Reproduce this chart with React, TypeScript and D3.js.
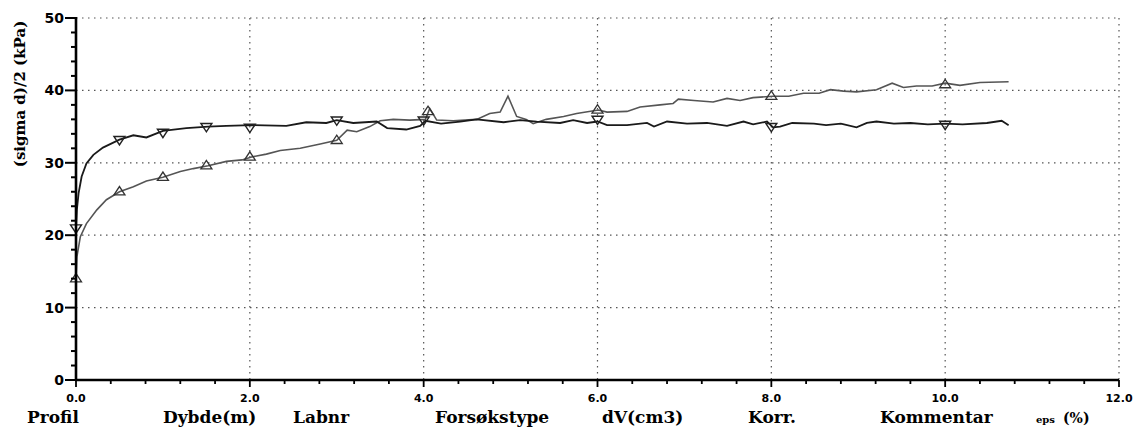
import React from "react";
import * as d3 from "d3";

// ---- data ----
const xTickValues = [0, 2, 4, 6, 8, 10, 12];
const yTickValues = [0, 10, 20, 30, 40, 50];

const seriesAX = [0, 0.01, 0.03, 0.065, 0.12, 0.2, 0.31, 0.5, 0.66, 0.81, 1.0, 1.27, 1.52, 1.73, 2.02, 2.42, 2.65, 2.88, 3.0, 3.19, 3.46, 3.58, 3.8, 3.96, 4.02, 4.2, 4.42, 4.61, 4.92, 5.11, 5.3, 5.57, 5.72, 5.88, 6.0, 6.11, 6.34, 6.57, 6.65, 6.8, 7.03, 7.26, 7.49, 7.68, 7.79, 7.95, 8.02, 8.1, 8.24, 8.49, 8.63, 8.8, 8.98, 9.1, 9.21, 9.41, 9.6, 9.8, 10.0, 10.2, 10.48, 10.65, 10.73];
const seriesAY = [21.0, 23.5, 25.8, 28.1, 29.9, 31.1, 32.1, 33.2, 33.8, 33.5, 34.4, 34.8, 35.0, 35.1, 35.2, 35.1, 35.6, 35.5, 35.9, 35.5, 35.7, 34.8, 34.6, 35.1, 35.8, 35.4, 35.7, 36.0, 35.6, 35.9, 35.7, 35.5, 35.9, 35.5, 35.7, 35.2, 35.2, 35.5, 35.0, 35.7, 35.4, 35.5, 35.1, 35.7, 35.3, 35.7, 34.9, 35.0, 35.5, 35.4, 35.2, 35.4, 34.9, 35.5, 35.7, 35.4, 35.5, 35.3, 35.4, 35.3, 35.5, 35.8, 35.2];

const seriesBX = [0, 0.01, 0.05, 0.12, 0.24, 0.35, 0.5, 0.66, 0.81, 1.0, 1.2, 1.35, 1.52, 1.73, 1.91, 2.02, 2.19, 2.35, 2.58, 2.81, 3.0, 3.12, 3.23, 3.38, 3.5, 3.65, 3.84, 4.02, 4.07, 4.15, 4.34, 4.61, 4.76, 4.88, 4.97, 5.07, 5.18, 5.26, 5.41, 5.61, 5.76, 6.01, 6.11, 6.34, 6.49, 6.72, 6.87, 6.93, 7.11, 7.33, 7.49, 7.64, 7.79, 8.02, 8.2, 8.37, 8.55, 8.68, 8.83, 8.98, 9.21, 9.39, 9.52, 9.67, 9.85, 10.0, 10.17, 10.4, 10.73];
const seriesBY = [14.0, 17.0, 19.8, 21.6, 23.5, 24.9, 26.0, 26.7, 27.5, 28.0, 28.8, 29.2, 29.6, 30.2, 30.4, 30.8, 31.2, 31.7, 32.0, 32.6, 33.1, 34.5, 34.3, 35.0, 35.8, 36.0, 35.9, 36.0, 37.5, 35.9, 35.8, 36.0, 36.8, 37.0, 39.2, 36.4, 36.0, 35.4, 36.0, 36.4, 36.8, 37.3, 37.0, 37.1, 37.7, 38.0, 38.2, 38.8, 38.6, 38.4, 38.9, 38.6, 39.0, 39.2, 39.2, 39.6, 39.6, 40.1, 39.9, 39.8, 40.1, 41.0, 40.4, 40.6, 40.6, 41.0, 40.7, 41.1, 41.2];

const markersAX = [0, 0.5, 1.0, 1.5, 2.0, 3.0, 4.0, 6.0, 8.0, 10.0];
const markersAY = [21.0, 33.2, 34.2, 35.0, 34.9, 35.9, 35.9, 36.0, 35.0, 35.3];
const markersBX = [0, 0.5, 1.0, 1.5, 2.0, 3.0, 4.05, 6.0, 8.0, 10.0];
const markersBY = [14.0, 26.0, 28.0, 29.6, 30.8, 33.1, 37.1, 37.3, 39.2, 40.8];

const footerLabels = ["Profil", "Dybde(m)", "Labnr", "Forsøkstype", "dV(cm3)", "Korr.", "Kommentar"];
const footerX = [27, 163, 293, 435, 602, 748, 880];

const W = 1147;
const H = 434;

export default function App() {
  const x = d3.scaleLinear().domain([0, 12]).range([76, 1119]);
  const y = d3.scaleLinear().domain([0, 50]).range([380, 18]);

  const line = d3
    .line<[number, number]>()
    .x((d) => x(d[0]))
    .y((d) => y(d[1]))
    .curve(d3.curveLinear);

  const dataA: [number, number][] = seriesAX.map((v, i) => [v, seriesAY[i]]);
  const dataB: [number, number][] = seriesBX.map((v, i) => [v, seriesBY[i]]);

  const xMinor = d3.range(0, 12.001, 0.4);
  const yMinor = d3.range(0, 50.001, 2);

  const tri = (cx: number, cy: number, down: boolean, s = 5.5) => {
    const h = s * 0.95;
    return down
      ? `M${cx - s},${cy - h * 0.6}L${cx + s},${cy - h * 0.6}L${cx},${cy + h}Z`
      : `M${cx - s},${cy + h * 0.6}L${cx + s},${cy + h * 0.6}L${cx},${cy - h}Z`;
  };

  const serif = "'DejaVu Serif', serif";
  const sans = "'DejaVu Sans', sans-serif";

  return (
    <svg
      width={W}
      height={H}
      style={{ position: "absolute", left: 0, top: 0, background: "#fff", display: "block" }}
    >
      <rect x={0} y={0} width={W} height={H} fill="#fff" />
      {/* grid */}
      <g stroke="#555" strokeWidth={1.2} strokeDasharray="1.5 4.5">
        {yTickValues
          .filter((v) => v > 0)
          .map((v) => (
            <line key={"gy" + v} x1={x(0)} x2={x(12)} y1={y(v)} y2={y(v)} />
          ))}
        {xTickValues
          .filter((v) => v > 0)
          .map((v) => (
            <line key={"gx" + v} x1={x(v)} x2={x(v)} y1={y(50)} y2={y(0)} />
          ))}
      </g>

      {/* series */}
      <path d={line(dataB) || ""} fill="none" stroke="#555" strokeWidth={1.6} />
      <path d={line(dataA) || ""} fill="none" stroke="#1a1a1a" strokeWidth={1.8} />

      {markersAX.map((v, i) => (
        <path key={"ma" + i} d={tri(x(v), y(markersAY[i]), true)} fill="none" stroke="#222" strokeWidth={1.4} />
      ))}
      {markersBX.map((v, i) => (
        <path key={"mb" + i} d={tri(x(v), y(markersBY[i]), false)} fill="none" stroke="#333" strokeWidth={1.3} />
      ))}

      {/* axes */}
      <line x1={x(0)} x2={x(0)} y1={y(50) - 1} y2={y(0) + 1} stroke="#000" strokeWidth={2.6} />
      <line x1={x(0) - 1} x2={x(12)} y1={y(0)} y2={y(0)} stroke="#000" strokeWidth={2.6} />

      {yMinor.map((v) => (
        <line
          key={"ty" + v}
          x1={x(0)}
          x2={x(0) - (v % 10 === 0 ? 11 : 5)}
          y1={y(v)}
          y2={y(v)}
          stroke="#000"
          strokeWidth={2}
        />
      ))}
      {xMinor.map((v, i) => (
        <line
          key={"tx" + i}
          x1={x(v)}
          x2={x(v)}
          y1={y(0)}
          y2={y(0) + (i % 5 === 0 ? 7 : 4)}
          stroke="#000"
          strokeWidth={1.8}
        />
      ))}

      {/* tick labels */}
      <g fontFamily={sans} fontWeight="bold" fontSize={14} fill="#000" textAnchor="end">
        {yTickValues.map((v) => (
          <text key={"ly" + v} x={64} y={y(v) + 5}>
            {v}
          </text>
        ))}
      </g>
      <g fontFamily={sans} fontWeight="bold" fontSize={11} fill="#000" textAnchor="middle">
        {xTickValues.map((v) => (
          <text key={"lx" + v} x={x(v)} y={402}>
            {v.toFixed(1)}
          </text>
        ))}
      </g>

      {/* y axis title */}
      <text
        transform={`translate(25, 94) rotate(-90)`}
        textAnchor="middle"
        fontFamily={serif}
        fontWeight="bold"
        fontSize={15}
        fill="#000"
      >
        (sigma d)/2 (kPa)
      </text>

      {/* footer labels */}
      <g fontFamily={serif} fontWeight="bold" fontSize={17} fill="#000">
        {footerLabels.map((t, i) => (
          <text key={t} x={footerX[i]} y={423}>
            {t}
          </text>
        ))}
        <text x={1036} y={423}>
          <tspan fontSize={10}>eps</tspan>
          <tspan fontSize={14} dx={8}>(%)</tspan>
        </text>
      </g>
    </svg>
  );
}
